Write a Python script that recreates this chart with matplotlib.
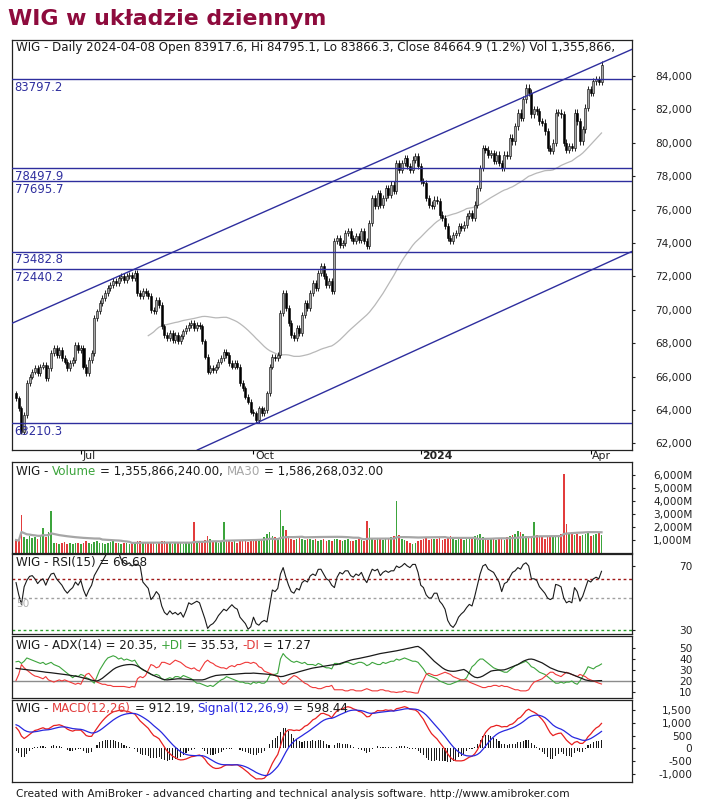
import numpy as np
import pandas as pd
import matplotlib
matplotlib.use("Agg")
import matplotlib.pyplot as plt
from matplotlib.transforms import blended_transform_factory

# ---------------- data ----------------
holidays = ["2023-06-08", "2023-08-15", "2023-11-01", "2023-12-25", "2023-12-26",
            "2024-01-01", "2024-03-29", "2024-04-01"]
dates = pd.bdate_range("2023-05-29", "2024-04-08")
dates = dates[~dates.isin(pd.to_datetime(holidays))]

first_open = 65000
close = [
    64700, 64100, 62700, 63700, 65600, 66000, 66300, 66500, 66200, 66600,
    66700, 65900, 66500, 67400, 67700, 67300, 67600, 67100, 66900, 66500,
    66800, 67000, 67900, 67600, 67700, 66600, 66200, 67000, 67400, 69500,
    69900, 70400, 70700, 71000, 71300, 71500, 71700, 71600, 71900, 72000,
    71800, 72000, 72100, 71900, 72200, 71000, 70800, 71100, 71000, 70800,
    70000, 69900, 70600, 70300, 69000, 68500, 68300, 68600, 68200, 68500,
    68100, 68400, 68700, 68900, 69100, 69200, 68900, 69100, 69000, 68100,
    67200, 66300, 66500, 66400, 66600, 66900, 67100, 67500, 67300, 66800,
    66600, 66800, 66600, 65600, 65300, 64800, 64500, 63900, 63800, 63400,
    64100, 63800, 64000, 65000, 66600, 67200, 67100, 67300, 69800, 71000,
    70100, 69200, 68500, 68300, 68900, 68600, 69700, 70400, 70100, 71000,
    71600, 71300, 72200, 72600, 72000, 71500, 71700, 71100, 74100, 74300,
    73900, 74000, 74600, 74700, 74300, 74100, 74400, 74200, 74700, 74100,
    73800, 75200, 76700, 76200, 77000, 76300, 76700, 77300, 76900, 77500,
    77100, 78800, 78400, 78800, 79100, 78600, 78400, 79000, 79200, 78600,
    77700, 77600, 76700, 76300, 76200, 76600, 76500, 75700, 75500, 75000,
    74300, 74100, 74500, 74600, 75000, 74900, 75100, 75600, 75800, 75500,
    76300, 77300, 78500, 79700, 79600, 79300, 79400, 78900, 79300, 78800,
    78500, 79300, 79200, 80300, 80100, 81000, 81800, 81500, 82600, 83300,
    83000, 81700, 82000, 81900, 81300, 81200, 80700, 79700, 79500, 80000,
    81800, 81800, 81700, 80000, 79600, 79800, 79700, 81800, 81300, 80100,
    80800, 82100, 83200, 83000, 83700, 83800, 83660, 84665,
]
volume_m = [
    1000, 900, 2950, 1250, 1100, 1300, 1150, 1200, 1050, 1300,
    1900, 1250, 1600, 3200, 800, 750, 700, 800, 850, 700,
    750, 700, 800, 750, 700, 800, 900, 750, 700, 850,
    950, 800, 750, 700, 800, 850, 900, 750, 800, 700,
    750, 800, 700, 750, 800, 950, 900, 850, 800, 750,
    800, 750, 700, 800, 950, 900, 850, 750, 700, 800,
    750, 800, 700, 750, 800, 850, 2370, 900, 800, 900,
    1000, 1300, 1100, 900, 850, 800, 900, 2350, 1000, 900,
    850, 900, 800, 950, 1000, 900, 850, 1000, 900, 1100,
    1000, 1100, 1200, 1500, 1600, 1300, 1200, 1100, 3300, 2100,
    1800, 1300, 1100, 1000, 1100, 1200, 1100, 1000, 1050, 1100,
    1000, 1100, 950, 1000, 1100, 900, 1000, 950, 1100, 1050,
    1000, 900, 1000, 1100, 950, 900, 1000, 1100, 1000, 950,
    2450, 1900, 1100, 1000, 1050, 1100, 1000, 1050, 1100, 1200,
    1300, 3980, 1400, 1100, 1000, 900, 800, 700, 800, 900,
    1000, 1100, 1200, 1000, 1100, 1050, 1100, 1200, 1000, 1100,
    1200, 1300, 1100, 1000, 1050, 1100, 1000, 1100, 1200, 1150,
    1300, 1400, 1500, 1200, 1100, 1000, 1050, 1100, 1000, 1100,
    1100, 1000, 1200, 1300, 1400, 1500, 1700, 1600, 1500, 1300,
    1200, 1300, 2400, 1400, 1300, 1200, 1100, 1200, 1300, 1200,
    1300, 1400, 1500, 6050, 2200, 1500, 1600, 1400, 1500, 1300,
    1400, 1500, 1600, 1300, 1400, 1500, 1600, 1356,
]
rsi = [
    59.6, 52, 46, 57, 61, 63.5, 64, 62, 59, 61,
    62, 58, 62, 65, 65.5, 62, 60, 58, 55, 53,
    55, 56.5, 60, 58, 61, 55, 51, 55, 58, 64,
    67, 70, 73, 76, 79, 80, 80, 78, 78.5, 74,
    72, 71, 72, 70, 71, 71, 70, 60, 58, 56,
    49, 51, 54, 52, 45, 41, 39.5, 42, 40, 41,
    39.5, 41, 38, 42, 47, 46, 47, 48, 47, 42,
    37, 31, 33, 34, 36, 39, 41, 43, 42, 44,
    45.8, 44, 43, 38, 36, 34, 30.5, 32, 38, 34,
    33, 35, 36, 35, 45, 55, 54, 56, 65, 69,
    63, 58, 54, 53, 56, 55, 59.6, 61, 60, 63.7,
    65, 64, 67.9, 68, 65, 62, 61, 58, 56.5, 63,
    66, 65, 67, 67, 64, 63, 65, 64, 66, 62,
    59.6, 64, 68, 67, 68, 64, 66, 67, 66, 67,
    67, 70, 69, 70, 71.6, 70, 69, 71, 71, 66,
    58, 56.5, 52, 50, 50, 53, 53, 48, 46, 43,
    36, 33, 31.6, 34, 38, 40, 41.5, 44, 46, 45,
    51, 58, 65, 70, 71, 68, 67, 66, 63, 60,
    54, 59, 60, 63, 66, 67, 69, 68, 71, 72,
    70, 62, 62, 61, 57, 55, 53, 50, 49, 50,
    58.5, 58, 57, 50, 47, 48, 47, 56.5, 54, 48,
    51, 56, 61, 60, 62, 63, 62, 66.68,
]
adx = [
    31.5, 31.2, 31, 30.6, 30.2, 30, 29.8, 29.5, 29.2, 28.8,
    28.4, 28, 27.8, 27.5, 27.2, 26.9, 26.6, 26.3, 26, 25.6,
    25.2, 24.8, 24.4, 24, 23.4, 22.8, 22.2, 21.5, 20.8, 20.3,
    20, 21, 22.5, 24.5, 26.5, 28.5, 30.5, 32, 33, 33.8,
    34.4, 34.8, 35, 35, 34.5, 33.5, 32, 30.5, 29, 27.5,
    26.2, 25, 24, 23, 22, 21.2, 21, 21.2, 21.5, 21.8,
    22, 22, 21.8, 21.6, 21.4, 21.2, 21, 21, 21, 21,
    21.5, 22.5, 23.5, 24.2, 25, 25.3, 25.5, 25.7, 25.8, 25.9,
    26, 26.2, 26.4, 26.6, 26.8, 27, 27, 27, 27.2, 27,
    26.8, 26.6, 26.4, 26.2, 26, 25.5, 25, 24.5, 24, 24.2,
    25, 25.8, 26.5, 27, 27.8, 28.5, 29.2, 30, 30.6, 31.2,
    31.8, 32.2, 32.6, 33, 33.4, 33.8, 34.2, 34.6, 34.8, 35,
    35.8, 36.6, 37.4, 38.2, 39, 39.6, 40, 40.5, 41, 41.5,
    42, 42.6, 43.2, 43.8, 44.4, 45, 45.4, 45.8, 46.2, 46.6,
    47, 47.5, 48, 48.5, 49, 49.5, 50, 50.6, 51.2, 51.5,
    50, 48, 45.5, 43, 40.5, 38, 36, 34, 32, 30.5,
    29.5, 29, 28.8, 29, 29.5, 30, 30.5, 29, 27, 25,
    23.5, 23, 23.5, 24.5, 26, 27.5, 29, 29.5, 29.8, 30,
    30, 30.2, 31, 32, 33, 34, 35, 36.5, 38, 39,
    39.8, 40, 39.5, 38.5, 37.5, 36.5, 35, 33.5, 32, 31,
    30, 29, 28.5, 28, 27.5, 27, 26, 25, 24, 23,
    22, 21, 20.5, 20, 20, 20.2, 20.3, 20.35,
]
plus_di = [
    37.5, 38, 36, 38, 41, 40, 39, 38, 37, 36,
    37, 35, 36, 37, 35, 34, 33, 31, 29, 27,
    25, 23, 25, 24, 26, 25, 23, 22, 20, 18,
    24, 30, 34, 38, 41, 42, 43, 42, 40, 41,
    39, 40, 39, 38, 39, 35, 32, 30, 29, 28,
    26, 25, 26, 25, 22, 21, 22, 23, 22, 24,
    24, 23, 25, 24, 23, 22, 20, 18, 18, 17,
    16, 15, 16, 15, 17, 19, 21, 22, 24, 23,
    22, 21, 20, 19, 19, 18, 18, 17, 19, 18,
    19, 18, 18, 20, 25, 26, 26, 27, 40, 45,
    42, 40, 38, 37, 38, 37, 36, 37, 35, 35,
    35, 34, 36, 35, 33, 32, 32, 31, 36, 36,
    35, 36, 37, 37, 36, 35, 36, 37, 37, 36,
    34, 35, 37, 36, 35, 35, 37, 36, 37, 38,
    38, 40, 39, 40, 41, 40, 39, 38, 38, 37,
    34, 31, 27, 25, 24, 23, 22, 20, 19, 18,
    17, 17, 18, 19, 20, 21, 21, 23, 28, 33,
    35, 38, 40, 40, 38, 36, 34, 32, 31, 30,
    29, 28, 28, 30, 32, 34, 35, 36, 37, 38,
    36, 33, 32, 30, 28, 27, 26, 24, 22, 20,
    18, 18, 19, 18, 19, 19, 20, 18, 17, 20,
    24, 28, 33, 32, 31, 33, 34, 35.53,
]
minus_di = [
    20.5, 26, 35, 32, 30, 28, 26, 24.5, 24, 23,
    22, 24, 21, 20, 19, 20, 21, 20, 21, 20,
    19, 18, 17, 18, 17, 22, 26, 27, 24, 21,
    19, 18, 17, 17, 16, 16, 15, 15, 15, 15,
    15, 14.5, 14, 15, 14.5, 22, 24, 23, 25, 30,
    35, 34, 32, 33, 37, 37, 36, 35, 37, 39,
    38, 37, 35, 33, 32, 31, 32, 30, 29, 33,
    37, 39, 37, 36, 34, 33, 32, 32, 31, 33,
    34, 33, 35, 35, 36, 37, 37, 36, 37, 36,
    33, 32, 29, 28, 27, 26, 25, 24, 19, 17,
    18, 21, 23, 25, 24, 22, 20, 18, 17, 15,
    14, 14, 13, 13, 14, 15, 15, 16, 12, 12,
    12, 12, 11, 11, 12, 12, 11, 11, 11, 12,
    13, 12, 11, 11, 11, 12, 12, 11, 11, 10,
    10, 9.5, 10, 10, 11, 10, 10, 9.5, 9, 9,
    16, 21, 26, 27, 26, 25, 25, 26, 27, 28,
    27, 26, 24, 23, 22, 21, 21, 21, 19, 18,
    17, 16, 15, 14, 14, 15, 15, 16, 16, 15,
    16, 15, 15, 14, 13, 12, 12, 11, 11, 11,
    12, 16, 19, 20, 21, 22, 24, 26, 28, 28,
    26, 25, 24, 26, 28, 27, 26, 25, 24, 26,
    25, 24, 22, 21, 20, 19, 18, 17.27,
]
levels = [83797.2, 78497.9, 77695.7, 73482.8, 72440.2, 63210.3]
upper_trend = [("2023-07-31", 72440.2), ("2024-04-08", 84795.1)]
lower_trend = [("2023-10-03", 63210.3), ("2024-04-03", 72440.2)]
rsi_lines = [(62, "#a01818"), (50, "#a0a0a0"), (30, "#2ca02c")]

month_ticks = ["2023-07-03", "2023-10-02", "2024-01-02", "2024-04-02"]
month_labels = ["Jul", "Oct", "2024", "Apr"]
price_ticks = list(range(62000, 84001, 2000))
vol_ticks = [1000, 2000, 3000, 4000, 5000, 6000]
rsi_ticks = [30, 70]
adx_ticks = [10, 20, 30, 40, 50]
macd_ticks = [-1000, -500, 0, 500, 1000, 1500]

# MACD state just before the first visible bar
ema12_seed, ema26_seed, signal_seed = 64900, 64000, 950

title = "WIG w układzie dziennym"
price_header = ("WIG - Daily 2024-04-08 Open 83917.6, Hi 84795.1, Lo 83866.3, "
                "Close 84664.9 (1.2%) Vol 1,355,866,")
footer = ("Created with AmiBroker - advanced charting and technical analysis "
          "software. http://www.amibroker.com")

# ---------------- derived series ----------------
n = len(close)
x = np.arange(n)
pos = {d: i for i, d in enumerate(dates)}
c = np.array(close, float)
o = np.r_[first_open, c[:-1]]
wick = 0.0025
hi = np.maximum(o, c) * (1 + wick)
lo = np.minimum(o, c) * (1 - wick)


def ema(vals, k, seed):
    a = 2.0 / (k + 1)
    out, s = [], seed
    for v in vals:
        s += a * (v - s)
        out.append(s)
    return np.array(out)


ma50 = pd.Series(c).rolling(50).mean()
vol = np.array(volume_m, float)
vol_ma30 = pd.Series(vol).rolling(30, min_periods=1).mean()
macd = ema(c, 12, ema12_seed) - ema(c, 26, ema26_seed)
signal = ema(macd, 9, signal_seed)
hist = macd - signal

# ---------------- figure ----------------
W, H = 703, 800
fig = plt.figure(figsize=(W / 100, H / 100), dpi=100)
plt.rcParams["font.family"] = ["DejaVu Sans"]

BLUE = "#2e2e9e"
GREEN = "#3ca43c"
RED = "#e23c3c"
GRAY = "#a6a6a6"


def panel(top, bottom, ylim, ticks, labels):
    ax = fig.add_axes([12 / W, 1 - bottom / H, 620 / W, (bottom - top) / H])
    ax.set_xlim(-1.5, 228.3)
    ax.set_ylim(*ylim)
    ax.yaxis.tick_right()
    ax.set_yticks(ticks)
    ax.set_yticklabels(labels)
    ax.tick_params(axis="y", direction="out", length=2.5, width=0.8,
                   labelsize=7.6, pad=41, colors="#222222")
    for lab in ax.get_yticklabels():
        lab.set_horizontalalignment("right")
    ax.tick_params(axis="x", bottom=False, labelbottom=False)
    for s in ax.spines.values():
        s.set_linewidth(0.9)
        s.set_color("#222222")
    return ax


ax_p = panel(40, 450, (61600, 86160), price_ticks, [f"{v:,}" for v in price_ticks])
ax_v = panel(462, 553, (0, 7000), vol_ticks, [f"{v:,}M" for v in vol_ticks])
ax_r = panel(554, 634, (27.5, 77.5), rsi_ticks, [str(v) for v in rsi_ticks])
ax_a = panel(636, 698, (4.5, 61), adx_ticks, [str(v) for v in adx_ticks])
ax_m = panel(700, 782, (-1312, 1890), macd_ticks, [f"{v:,}" for v in macd_ticks])

# price candles
up = c >= o
body_lo = np.minimum(o, c)
body_h = np.maximum(np.abs(c - o), 40)
ax_p.vlines(x, lo, hi, color="black", lw=0.6, zorder=3)
ax_p.bar(x, body_h, bottom=body_lo, width=0.75,
         color=np.where(up, "#a9a9a9", "black"), edgecolor="black",
         linewidth=0.4, zorder=4)
ax_p.plot(x, ma50, color="#b8b8b8", lw=0.9, zorder=2)

for lv in levels:
    ax_p.axhline(lv, color=BLUE, lw=1.0, zorder=5)
    ax_p.text(-0.5, lv - 110, f"{lv:.1f}", color=BLUE, fontsize=8.4,
              va="top", ha="left", zorder=6)
for pts in (upper_trend, lower_trend):
    (d1, p1), (d2, p2) = pts
    ax_p.axline((pos[pd.Timestamp(d1)], p1), (pos[pd.Timestamp(d2)], p2),
                color=BLUE, lw=1.0, zorder=5)

tick_idx = [pos[pd.Timestamp(d)] for d in month_ticks]
ax_p.set_xticks(tick_idx)
ax_p.tick_params(axis="x", bottom=True, labelbottom=False, direction="out",
                 length=3, width=0.8)
trans = blended_transform_factory(ax_p.transData, ax_p.transAxes)
for i, lab in zip(tick_idx, month_labels):
    ax_p.text(i + 0.6, -0.002, lab, transform=trans, va="top", ha="left",
              fontsize=7.8, fontweight="bold" if lab == "2024" else "normal",
              color="#222222")

# volume
vcol = np.where(up, GREEN, RED)
ax_v.bar(x, vol, width=0.6, color=vcol, zorder=2)
ax_v.plot(x, vol_ma30, color=GRAY, lw=1.6, zorder=3)

# RSI
for lv, col in rsi_lines:
    ax_r.axhline(lv, color=col, lw=1.0, ls=(0, (2, 2)))
ax_r.plot(x, rsi, color="#1a1a1a", lw=0.8)
ax_r.text(0, 49.5, "50", color="#b0b0b0", fontsize=7.6, va="top", ha="left")

# ADX
ax_a.axhline(20, color="#8c8c8c", lw=1.0)
ax_a.plot(x, plus_di, color=GREEN, lw=0.8)
ax_a.plot(x, minus_di, color="#f03838", lw=0.8)
ax_a.plot(x, adx, color="#1a1a1a", lw=0.9)

# MACD
ax_m.bar(x, hist, width=0.4, color="#1a1a1a")
ax_m.plot(x, macd, color="#e82020", lw=0.9)
ax_m.plot(x, signal, color="#2828e0", lw=0.9)

# ---------------- texts ----------------
renderer = fig.canvas.get_renderer()


def text_width(s, size):
    t = fig.text(0, 0, s + "|", fontsize=size)
    w = t.get_window_extent(renderer).width
    t.remove()
    t = fig.text(0, 0, "|", fontsize=size)
    w -= t.get_window_extent(renderer).width
    t.remove()
    return w


def rich(parts, x_px, base_px, size=8.6):
    prefix = ""
    for s, col in parts:
        stripped = s.lstrip(" ")
        prefix += s[:len(s) - len(stripped)]
        xo = x_px + (text_width(prefix, size) if prefix else 0)
        fig.text(xo / W, 1 - base_px / H, stripped, color=col, fontsize=size,
                 va="baseline", ha="left")
        prefix += stripped


fig.text(8 / W, 1 - 25 / H, title, color="#8e0b3d", fontsize=15.8,
         fontweight="bold", va="baseline", ha="left")
rich([(price_header, "#1a1a1a")], 16, 51)
rich([("WIG -", "#1a1a1a"), (" Volume", GREEN), (" = 1,355,866,240.00,", "#1a1a1a"),
      (" MA30", GRAY), (" = 1,586,268,032.00", "#1a1a1a")], 16, 475)
rich([("WIG - RSI(15) = 66.68", "#1a1a1a")], 16, 566)
rich([("WIG - ADX(14) = 20.35,", "#1a1a1a"), (" +DI", GREEN), (" = 35.53,", "#1a1a1a"),
      (" -DI", RED), (" = 17.27", "#1a1a1a")], 16, 649)
rich([("WIG -", "#1a1a1a"), (" MACD(12,26)", RED), (" = 912.19,", "#1a1a1a"),
      (" Signal(12,26,9)", "#2828e0"), (" = 598.44", "#1a1a1a")], 16, 712)
rich([(footer, "#1a1a1a")], 16, 797, size=7.6)

fig.savefig("out.png", dpi=100)
